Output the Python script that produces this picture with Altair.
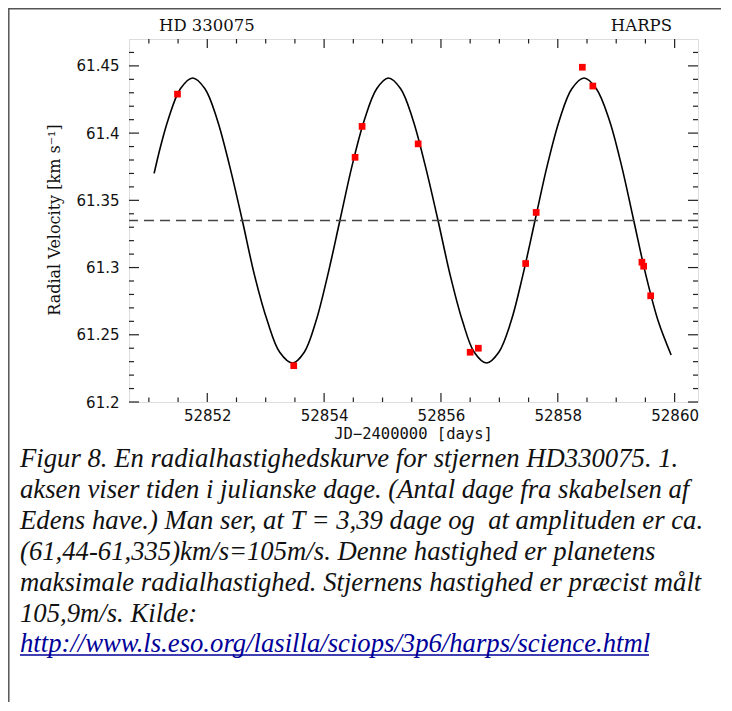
import altair as alt
import pandas as pd

# ---------------- data ----------------
obs_day = [52851.49, 52853.48, 52854.53, 52854.65, 52855.61, 52856.50, 52856.64,
           52857.45, 52857.63, 52858.42, 52858.60, 52859.44, 52859.47, 52859.59]
obs_rv = [61.429, 61.227, 61.382, 61.405, 61.392, 61.237, 61.240,
          61.303, 61.341, 61.449, 61.435, 61.304, 61.301, 61.279]

curve_day = [52851.09, 52851.20, 52851.33, 52851.54, 52851.75, 52851.96, 52852.17,
             52852.38, 52852.60, 52852.81, 52853.03, 52853.24, 52853.46, 52853.66,
             52853.86, 52854.06, 52854.27, 52854.48, 52854.69, 52854.90, 52855.10,
             52855.31, 52855.52, 52855.73, 52855.95, 52856.16, 52856.37, 52856.57,
             52856.78, 52856.99, 52857.20, 52857.40, 52857.61, 52857.82, 52858.03,
             52858.24, 52858.45, 52858.66, 52858.88, 52859.09, 52859.30, 52859.51,
             52859.72, 52859.94]
curve_rv = [61.370, 61.390, 61.410, 61.433, 61.441, 61.433, 61.410,
            61.376, 61.335, 61.294, 61.260, 61.237, 61.229, 61.237,
            61.260, 61.294, 61.335, 61.376, 61.410, 61.433, 61.441,
            61.433, 61.410, 61.376, 61.335, 61.294, 61.260, 61.237,
            61.229, 61.237, 61.260, 61.294, 61.335, 61.376, 61.410,
            61.433, 61.441, 61.433, 61.410, 61.376, 61.335, 61.294,
            61.260, 61.235]

mean_rv = [61.335]

x_major = [52852, 52854, 52856, 52858, 52860]
x_minor = [52851.0, 52851.5, 52852.5, 52853.0, 52853.5, 52854.5, 52855.0,
           52855.5, 52856.5, 52857.0, 52857.5, 52858.5, 52859.0, 52859.5]
y_major = [61.2, 61.25, 61.3, 61.35, 61.4, 61.45]
y_minor = [61.21, 61.22, 61.23, 61.24, 61.26, 61.27, 61.28, 61.29,
           61.31, 61.32, 61.33, 61.34, 61.36, 61.37, 61.38, 61.39,
           61.41, 61.42, 61.43, 61.44, 61.46]

title_left = "HD 330075"
title_right = "HARPS"
x_title = "JD\u22122400000 [days]"
y_title = "Radial Velocity [km s\u207b\u00b9]"
caption_lines = [
    "Figur 8. En radialhastighedskurve for stjernen HD330075. 1.",
    "aksen viser tiden i julianske dage. (Antal dage fra skabelsen af",
    "Edens have.) Man ser, at T = 3,39 dage og \u00a0at amplituden er ca.",
    "(61,44-61,335)km/s=105m/s. Denne hastighed er planetens",
    "maksimale radialhastighed. Stjernens hastighed er pr\u00e6cist m\u00e5lt",
    "105,9m/s. Kilde:",
]
link_text = "http://www.ls.eso.org/lasilla/sciops/3p6/harps/science.html"

# ---------------- layout ----------------
W, H = 569, 363
PAD = {"left": 121, "top": 31, "right": 24, "bottom": 300}

xs = alt.Scale(domain=[52850.66, 52860.40], nice=False, zero=False)
ys = alt.Scale(domain=[61.2, 61.47], nice=False, zero=False)

xa = alt.Axis(values=x_major, format="d", title=None, ticks=False, tickSize=0,
              domain=False, grid=False, labelFont="DejaVu Sans", labelFontSize=15,
              labelColor="#111", labelPadding=6)
ya = alt.Axis(values=y_major, format=".2~f", title=None, ticks=False, tickSize=0,
              domain=False, grid=False, labelFont="DejaVu Sans", labelFontSize=15,
              labelColor="#111", labelPadding=10)

obs = pd.DataFrame({"day": obs_day, "rv": obs_rv})
curve = pd.DataFrame({"day": curve_day, "rv": curve_rv})
one = pd.DataFrame({"k": [0]})

layers = []

# curve
layers.append(
    alt.Chart(curve).mark_line(color="black", strokeWidth=1.6, interpolate="catmull-rom").encode(
        x=alt.X("day:Q", scale=xs, axis=xa),
        y=alt.Y("rv:Q", scale=ys, axis=ya),
    )
)

# dashed mean line
layers.append(
    alt.Chart(pd.DataFrame({"rv": mean_rv})).mark_rule(
        color="#444", strokeWidth=1.3, strokeDash=[10, 6]).encode(
        y=alt.Y("rv:Q", scale=ys, axis=ya))
)

# observations
layers.append(
    alt.Chart(obs).mark_point(shape="square", filled=True, color="#ff0000", size=45, opacity=1).encode(
        x=alt.X("day:Q", scale=xs, axis=xa),
        y=alt.Y("rv:Q", scale=ys, axis=ya))
)

# inward ticks (mirrored on all sides)
def xticks(vals, length):
    df = pd.DataFrame({"d": vals})
    bot = alt.Chart(df).mark_rule(color="#222", strokeWidth=1.2).encode(
        x=alt.X("d:Q", scale=xs, axis=xa), y=alt.value(H), y2=alt.value(H - length))
    top = alt.Chart(df).mark_rule(color="#222", strokeWidth=1.2).encode(
        x=alt.X("d:Q", scale=xs, axis=xa), y=alt.value(0), y2=alt.value(length))
    return [bot, top]

def yticks(vals, length):
    df = pd.DataFrame({"v": vals})
    left = alt.Chart(df).mark_rule(color="#222", strokeWidth=1.2).encode(
        y=alt.Y("v:Q", scale=ys, axis=ya), x=alt.value(0), x2=alt.value(length))
    right = alt.Chart(df).mark_rule(color="#222", strokeWidth=1.2).encode(
        y=alt.Y("v:Q", scale=ys, axis=ya), x=alt.value(W), x2=alt.value(W - length))
    return [left, right]

layers += xticks(x_major, 9) + xticks(x_minor, 4.5)
layers += yticks(y_major, 10) + yticks(y_minor, 5)

def text(t, x, y, **kw):
    return alt.Chart(one).mark_text(text=t, **kw).encode(x=alt.value(x), y=alt.value(y))

layers.append(text(title_left, 30, -13, align="left", baseline="middle",
                   font="DejaVu Serif", fontSize=16.5, color="#111"))
layers.append(text(title_right, 543, -13, align="right", baseline="middle",
                   font="DejaVu Serif", fontSize=16.5, color="#111"))
layers.append(text(x_title, W / 2, 395, align="center", baseline="middle",
                   font="DejaVu Sans Mono", fontSize=15.5, color="#111"))
layers.append(text(y_title, -74, 181, align="center", baseline="middle", angle=270,
                   font="DejaVu Serif", fontSize=16, color="#111"))

# caption
cap_x = -109
cap_y0 = 428
cap_step = 31
cap_size = 26.7
for i, line in enumerate(caption_lines):
    layers.append(text(line, cap_x, cap_y0 + i * cap_step, align="left", baseline="alphabetic",
                       font="Liberation Serif", fontStyle="italic", fontSize=cap_size, color="#111"))
link_y = cap_y0 + 6 * cap_step - 1
layers.append(text(link_text, cap_x, link_y, align="left", baseline="alphabetic",
                   font="Liberation Serif", fontStyle="italic", fontSize=cap_size, color="#000099"))
layers.append(alt.Chart(one).mark_rule(color="#000099", strokeWidth=1.3).encode(
    x=alt.value(cap_x), x2=alt.value(520), y=alt.value(link_y + 3)))

# document border lines
layers.append(alt.Chart(one).mark_rule(color="#555", strokeWidth=1.5).encode(
    x=alt.value(-PAD["left"] + 0.8), y=alt.value(-PAD["top"] + 0.8), y2=alt.value(H + PAD["bottom"])))
layers.append(alt.Chart(one).mark_rule(color="#555", strokeWidth=1.5).encode(
    x=alt.value(-PAD["left"]), x2=alt.value(W + PAD["right"] - 1), y=alt.value(-PAD["top"] + 0.8)))

chart = alt.layer(*layers).properties(
    width=W, height=H, padding=PAD,
    autosize=alt.AutoSizeParams(type="none"),
).configure_view(stroke="#111", strokeWidth=1.4).configure(background="white")

chart.save("out.html", embed_options={"renderer": "svg", "actions": False})
